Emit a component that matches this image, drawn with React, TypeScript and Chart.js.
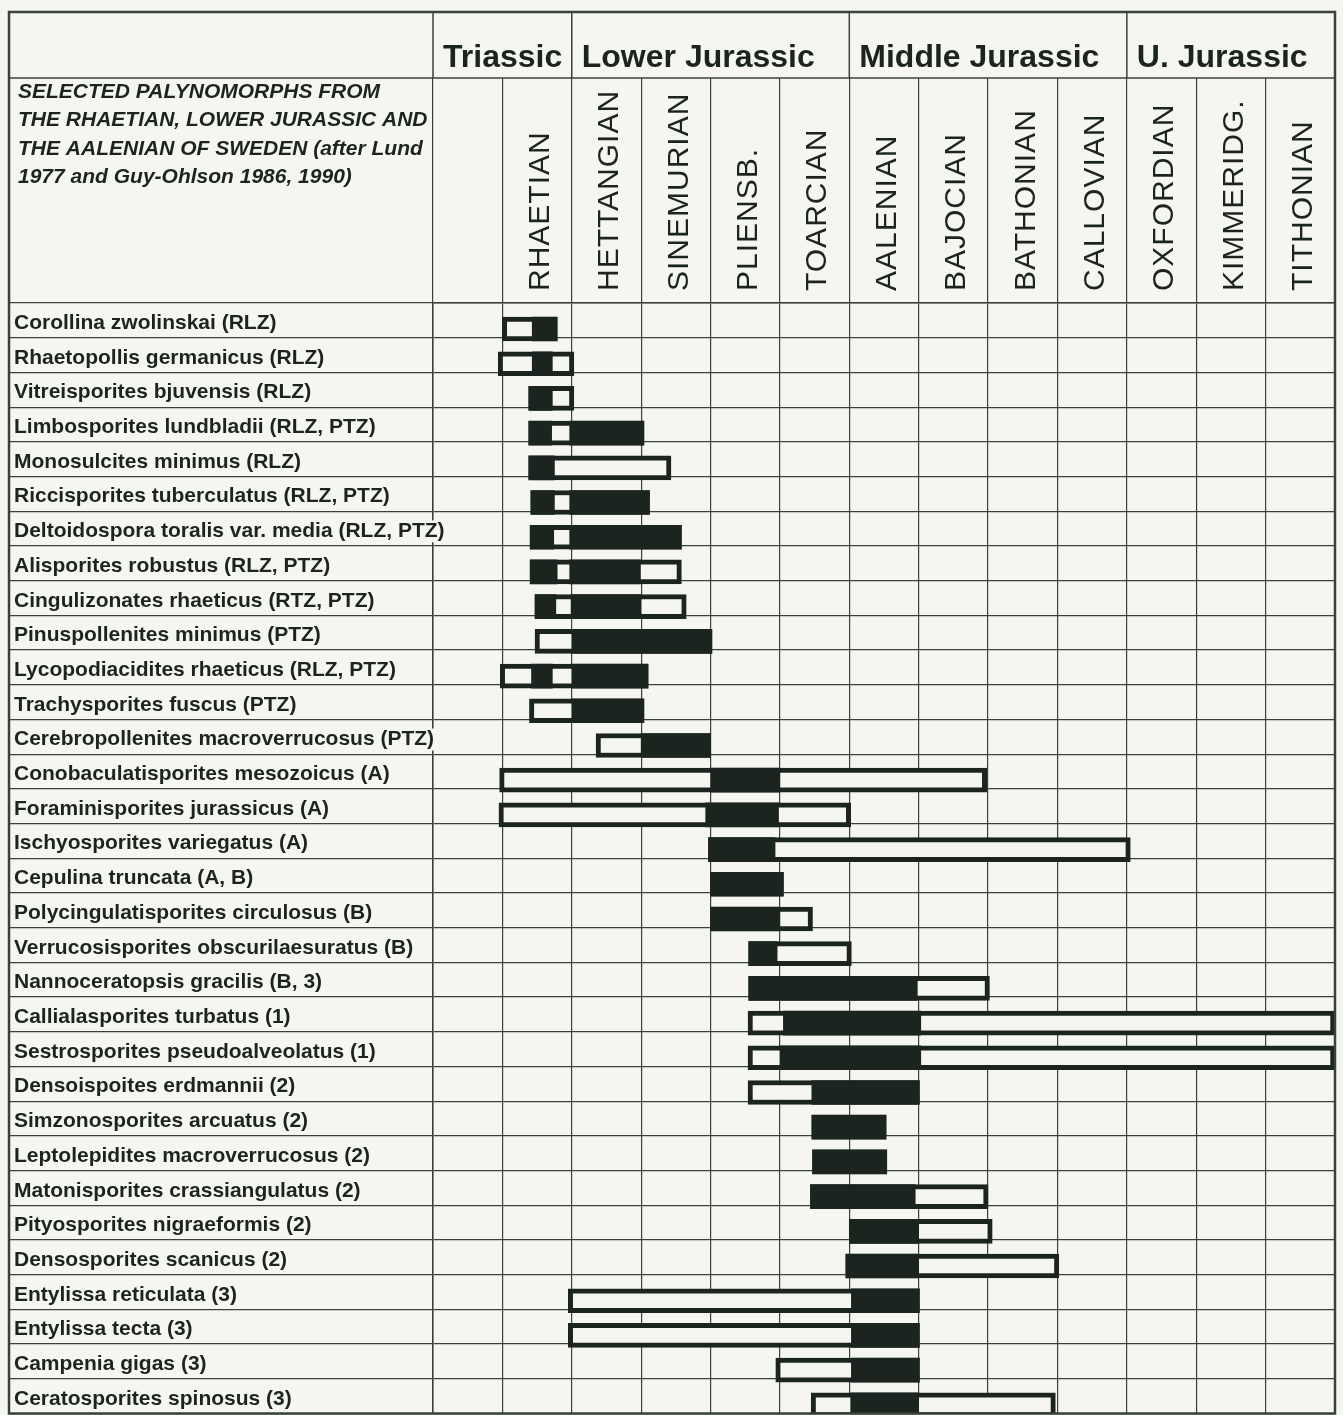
import React, { useEffect, useRef } from 'react';
import { Chart, registerables } from 'chart.js';

Chart.register(...registerables);

// ---------- data ----------
const GROUPS = ['Triassic', 'Lower Jurassic', 'Middle Jurassic', 'U. Jurassic'];
const GROUP_START = [0, 2, 6, 10];
const STAGES = ['', 'RHAETIAN', 'HETTANGIAN', 'SINEMURIAN', 'PLIENSB.', 'TOARCIAN', 'AALENIAN', 'BAJOCIAN', 'BATHONIAN', 'CALLOVIAN', 'OXFORDIAN', 'KIMMERIDG.', 'TITHONIAN'];
const TITLE_LINES = [
  'SELECTED PALYNOMORPHS FROM',
  'THE RHAETIAN, LOWER JURASSIC AND',
  'THE AALENIAN OF SWEDEN (after Lund',
  '1977 and Guy-Ohlson 1986, 1990)',
];

const SPECIES = [
  'Corollina zwolinskai (RLZ)',
  'Rhaetopollis germanicus (RLZ)',
  'Vitreisporites bjuvensis (RLZ)',
  'Limbosporites lundbladii (RLZ, PTZ)',
  'Monosulcites minimus (RLZ)',
  'Riccisporites tuberculatus (RLZ, PTZ)',
  'Deltoidospora toralis var. media (RLZ, PTZ)',
  'Alisporites robustus (RLZ, PTZ)',
  'Cingulizonates rhaeticus (RTZ, PTZ)',
  'Pinuspollenites minimus (PTZ)',
  'Lycopodiacidites rhaeticus (RLZ, PTZ)',
  'Trachysporites fuscus (PTZ)',
  'Cerebropollenites macroverrucosus (PTZ)',
  'Conobaculatisporites mesozoicus (A)',
  'Foraminisporites jurassicus (A)',
  'Ischyosporites variegatus (A)',
  'Cepulina truncata (A, B)',
  'Polycingulatisporites circulosus (B)',
  'Verrucosisporites obscurilaesuratus (B)',
  'Nannoceratopsis gracilis (B, 3)',
  'Callialasporites turbatus (1)',
  'Sestrosporites pseudoalveolatus (1)',
  'Densoispoites erdmannii (2)',
  'Simzonosporites arcuatus (2)',
  'Leptolepidites macroverrucosus (2)',
  'Matonisporites crassiangulatus (2)',
  'Pityosporites nigraeformis (2)',
  'Densosporites scanicus (2)',
  'Entylissa reticulata (3)',
  'Entylissa tecta (3)',
  'Campenia gigas (3)',
  'Ceratosporites spinosus (3)',
];

// total (open) range, in stage-column units (0 = unnamed Triassic column, 1 = Rhaetian ... 13 = top of Tithonian)
const RANGES: [number, number][] = [
  [1.0, 1.79], [0.94, 2.03], [1.38, 2.03], [1.38, 3.04], [1.38, 3.43],
  [1.41, 3.12], [1.40, 3.58], [1.40, 3.58], [1.47, 3.65], [1.47, 4.02],
  [0.97, 3.1], [1.39, 3.04], [2.35, 4.0], [0.96, 7.98], [0.95, 6.02],
  [3.97, 10.05], [4.0, 5.05], [4.0, 5.47], [4.55, 6.03], [4.55, 8.02],
  [4.54, 13.0], [4.54, 13.0], [4.54, 7.01], [5.46, 6.53], [5.47, 6.54],
  [5.44, 8.0], [6.0, 8.06], [5.95, 9.02], [1.95, 7.01], [1.95, 7.01],
  [4.94, 7.01], [5.45, 8.97],
];

// filled (black) parts of the range
const BLACK_A: [number, number][] = [
  [1.43, 1.79], [1.43, 1.72], [1.38, 1.72], [1.38, 1.71], [1.38, 1.75],
  [1.41, 1.75], [1.40, 1.74], [1.40, 1.79], [1.47, 1.77], [2.0, 4.02],
  [1.42, 1.72], [2.0, 3.04], [3.0, 4.0], [4.0, 5.0], [3.93, 4.98],
  [3.97, 4.93], [4.0, 5.05], [4.0, 5.0], [4.55, 4.96], [4.55, 6.98],
  [5.05, 7.03], [5.0, 7.03], [5.46, 7.01], [5.46, 6.53], [5.47, 6.54],
  [5.44, 6.95], [6.0, 7.0], [5.95, 7.0], [6.03, 7.01], [6.03, 7.01],
  [6.03, 7.01], [6.02, 7.0],
];

const BLACK_B: ([number, number] | null)[] = [
  null, null, null, [1.97, 3.04], null,
  [1.97, 3.12], [1.97, 3.58], [1.97, 2.99], [1.99, 3.0], null,
  [2.0, 3.1], null, null, null, null,
  null, null, null, null, null,
  null, null, null, null, null,
  null, null, null, null, null,
  null, null,
];

// ---------- layout / style ----------
const W = 1343;
const H = 1415;
const TABLE = { left: 9, right: 1335, top: 12, bottom: 1413.5 };
const PLOT_LEFT = 433;
const PLOT_TOP = 303;
const GROUP_LINE = 78;
const LABEL_X = 14;
const N_COLS = STAGES.length;
const N_ROWS = SPECIES.length;
const BAR_POS = 0.75;
const LABEL_POS = 0.58;

const BG = '#f5f6f1';
const INK = '#1c2420';
const LINE = '#39413d';
const FONT = "'Liberation Sans', Arial, Helvetica, sans-serif";

const framePlugin = {
  id: 'frame',
  beforeDraw(chart: any) {
    const ctx = chart.ctx;
    ctx.save();
    ctx.fillStyle = BG;
    ctx.fillRect(0, 0, chart.width, chart.height);
    ctx.restore();
  },
  afterDraw(chart: any) {
    const ctx: CanvasRenderingContext2D = chart.ctx;
    const xs = chart.scales.x;
    const ys = chart.scales.y;
    const px = (v: number) => xs.getPixelForValue(v);
    const seg = (x1: number, y1: number, x2: number, y2: number) => {
      ctx.beginPath();
      ctx.moveTo(x1, y1);
      ctx.lineTo(x2, y2);
      ctx.stroke();
    };
    ctx.save();

    // species labels (left column)
    ctx.font = `bold 21px ${FONT}`;
    ctx.textAlign = 'left';
    ctx.textBaseline = 'middle';
    SPECIES.forEach((s, i) => {
      const y = ys.getPixelForValue(i + LABEL_POS);
      const w = ctx.measureText(s).width;
      ctx.fillStyle = BG;
      ctx.fillRect(LABEL_X - 1, y - 11, w + 4, 22);
      ctx.fillStyle = INK;
      ctx.fillText(s, LABEL_X, y);
    });

    ctx.strokeStyle = LINE;
    ctx.lineWidth = 1.5;
    seg(TABLE.left, GROUP_LINE, TABLE.right, GROUP_LINE);
    GROUP_START.forEach((v) => seg(px(v), TABLE.top, px(v), GROUP_LINE));
    ctx.lineWidth = 2.5;
    ctx.strokeRect(TABLE.left, TABLE.top, TABLE.right - TABLE.left, TABLE.bottom - TABLE.top);

    ctx.fillStyle = INK;
    ctx.textAlign = 'left';
    ctx.textBaseline = 'alphabetic';
    ctx.font = `bold 32px ${FONT}`;
    GROUPS.forEach((g, i) => ctx.fillText(g, px(GROUP_START[i]) + 10, 67));

    ctx.font = `30px ${FONT}`;
    (ctx as any).letterSpacing = '1px';
    const cap = 30 * 0.716;
    STAGES.forEach((s, i) => {
      if (!s) return;
      const cx = (px(i) + px(i + 1)) / 2 + 1;
      ctx.save();
      ctx.translate(cx, 291);
      ctx.rotate(-Math.PI / 2);
      ctx.fillText(s, 0, cap / 2);
      ctx.restore();
    });
    (ctx as any).letterSpacing = '0px';

    ctx.font = `italic bold 21px ${FONT}`;
    TITLE_LINES.forEach((t, i) => ctx.fillText(t, 18, 97.5 + i * 28.5));
    ctx.restore();
  },
};

export default function App() {
  const ref = useRef<HTMLCanvasElement>(null);

  useEffect(() => {
    const canvas = ref.current;
    if (!canvas) return;
    const toData = (arr: ([number, number] | null)[]) =>
      arr
        .map((r, i) => (r ? { x: r, y: i + BAR_POS } : null))
        .filter((d) => d !== null);

    const common = {
      barThickness: 24,
      grouped: false,
      borderSkipped: false,
      borderRadius: 0,
    };

    const chart = new Chart(canvas, {
      type: 'bar',
      data: {
        datasets: [
          { ...common, label: 'Frequent', data: toData(BLACK_A) as any, backgroundColor: INK, borderWidth: 0, order: 0 },
          { ...common, label: 'Frequent (2)', data: toData(BLACK_B) as any, backgroundColor: INK, borderWidth: 0, order: 1 },
          { ...common, label: 'Range', data: toData(RANGES) as any, backgroundColor: BG, borderColor: INK, borderWidth: 5, order: 2 },
        ] as any,
      },
      options: {
        indexAxis: 'y',
        animation: false,
        responsive: false,
        events: [],
        layout: {
          padding: { left: LABEL_X, top: TABLE.top, right: W - TABLE.right, bottom: H - TABLE.bottom },
        },
        plugins: {
          legend: { display: false },
          tooltip: { enabled: false },
          title: { display: false },
        },
        scales: {
          x: {
            type: 'linear',
            position: 'top',
            min: 0,
            max: N_COLS,
            offset: false,
            afterBuildTicks: (s: any) => {
              s.ticks = Array.from({ length: N_COLS + 1 }, (_, i) => ({ value: i }));
            },
            afterFit: (s: any) => {
              s.height = PLOT_TOP - TABLE.top;
              s.paddingLeft = 0;
              s.paddingRight = 0;
              s.paddingTop = 0;
              s.paddingBottom = 0;
            },
            ticks: { display: false },
            grid: {
              offset: false,
              color: LINE,
              lineWidth: 1.2,
              drawTicks: true,
              tickLength: PLOT_TOP - GROUP_LINE,
              tickColor: LINE,
              tickWidth: 1.2,
            },
            border: { display: true, color: LINE, width: 1.5 },
          },
          y: {
            type: 'linear',
            position: 'left',
            min: 0,
            max: N_ROWS,
            reverse: true,
            offset: false,
            afterBuildTicks: (s: any) => {
              s.ticks = Array.from({ length: N_ROWS + 1 }, (_, i) => ({ value: i }));
            },
            afterFit: (s: any) => {
              s.width = PLOT_LEFT - LABEL_X;
              s.paddingLeft = 0;
              s.paddingRight = 0;
              s.paddingTop = 0;
              s.paddingBottom = 0;
            },
            ticks: { display: false },
            grid: {
              offset: false,
              color: LINE,
              lineWidth: 1.2,
              drawTicks: true,
              tickLength: PLOT_LEFT - TABLE.left,
              tickColor: LINE,
              tickWidth: 1.2,
            },
            border: { display: true, color: LINE, width: 1.5 },
          },
        },
      } as any,
      plugins: [framePlugin],
    });

    return () => chart.destroy();
  }, []);

  return (
    <div style={{ position: 'absolute', left: 0, top: 0, width: W, height: H, background: BG }}>
      <canvas ref={ref} width={W} height={H} style={{ display: 'block' }} />
    </div>
  );
}
